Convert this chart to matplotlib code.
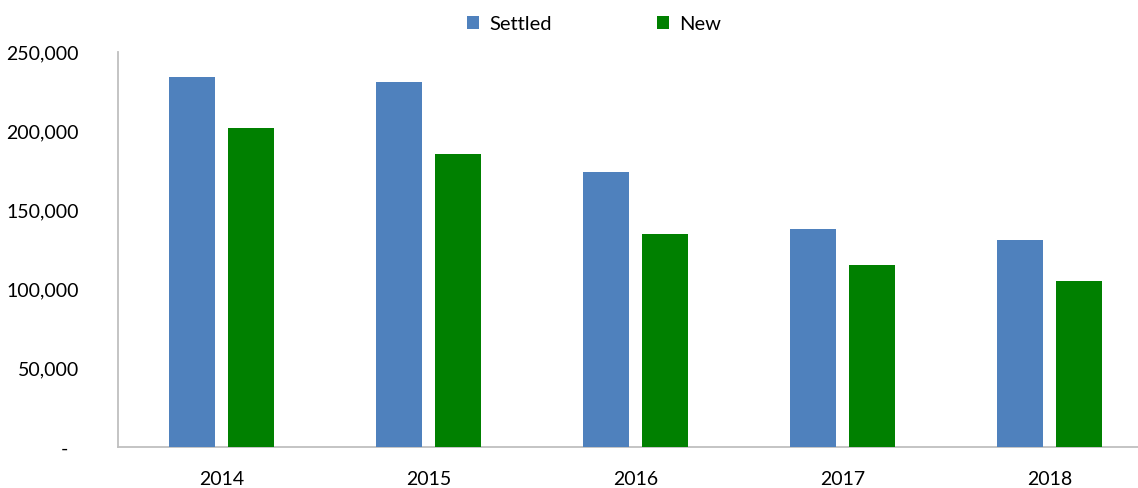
import matplotlib
matplotlib.use("Agg")
import matplotlib.pyplot as plt
import numpy as np
from matplotlib.ticker import FixedLocator, FixedFormatter
import matplotlib.transforms as mtransforms

years = ["2014", "2015", "2016", "2017", "2018"]
settled = [234000, 231000, 174300, 138100, 130900]
new = [202000, 185300, 134900, 115300, 105200]
yticks = [0, 50000, 100000, 150000, 200000, 250000]
ytick_labels = ["-", "50,000", "100,000", "150,000", "200,000", "250,000"]

plt.rcParams['font.family'] = ['Lato', 'DejaVu Sans']

W, H = 1138, 488
fig = plt.figure(figsize=(W/100, H/100), dpi=100)
left = 118 / W
right = 1153 / W
bottom = (H - 447.3) / H
top = (H - 52) / H
ax = fig.add_axes([left, bottom, right - left, top - bottom])

x = np.arange(len(years))
bw = 0.222
off = 0.1425
blue = "#4F81BD"
green = "#008000"
ax.bar(x - off, settled, width=bw, color=blue, label="Settled", zorder=3)
ax.bar(x + off, new, width=bw, color=green, label="New", zorder=3)

ax.set_xlim(-0.5, 4.5)
ax.set_ylim(0, 250000)
ax.yaxis.set_major_locator(FixedLocator(yticks))
ax.yaxis.set_major_formatter(FixedFormatter(ytick_labels))
ax.set_xticks(x)
ax.set_xticklabels(years)

for s in ["top", "right"]:
    ax.spines[s].set_visible(False)
for s in ["left", "bottom"]:
    ax.spines[s].set_color("#BFBFBF")
    ax.spines[s].set_linewidth(1.3)

ax.tick_params(axis="both", length=0, labelsize=14, colors="black")
ax.tick_params(axis="y", pad=28)
ax.tick_params(axis="x", pad=17)

# shift the "-" label left as in accounting format
lbl0 = ax.get_yticklabels()[0]
lbl0.set_transform(lbl0.get_transform() + mtransforms.ScaledTranslation(-11/100, 0, fig.dpi_scale_trans))

leg = fig.legend(loc="upper center", bbox_to_anchor=(0.522, 1.005), ncol=2, frameon=False,
                 fontsize=14.5, handlelength=0.6, handleheight=0.6, handletextpad=0.5,
                 columnspacing=5.2)

fig.savefig("out.png", dpi=100)
